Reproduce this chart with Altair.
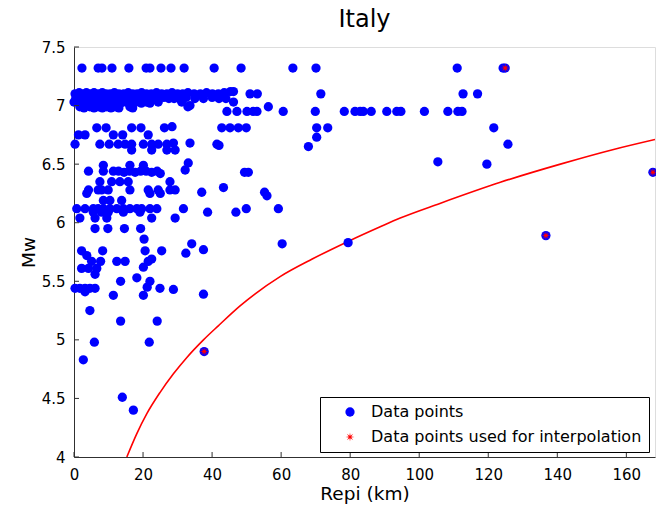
import altair as alt
import pandas as pd

title_text = "Italy"
x_title = "Repi (km)"
y_title = "Mw"
series_names = ["Data points", "Data points used for interpolation"]

x_ticks = [0, 20, 40, 60, 80, 100, 120, 140, 160]
y_ticks = [4, 4.5, 5, 5.5, 6, 6.5, 7, 7.5]

# (Repi km, Mw) pairs, grouped by magnitude band
points_top = [
    (2.3, 7.32), (7.0, 7.32), (8.1, 7.32), (11.0, 7.32), (15.9, 7.32), (20.9, 7.32), (22.0, 7.32),
    (25.2, 7.32), (28.1, 7.32), (31.9, 7.32), (40.6, 7.32), (48.4, 7.32), (63.4, 7.32), (70.1, 7.32),
    (111.0, 7.32), (124.3, 7.32), (124.9, 7.32),
]
points_710 = [
    (0.3, 7.10), (1.5, 7.11), (2.6, 7.10), (3.6, 7.11), (4.7, 7.10), (5.8, 7.11), (7.0, 7.10), (8.2, 7.11),
    (9.3, 7.10), (10.5, 7.10), (11.7, 7.11), (13.0, 7.10), (14.4, 7.10), (15.7, 7.11), (17.0, 7.10),
    (18.3, 7.10), (19.6, 7.11), (21.0, 7.10), (22.4, 7.10), (23.9, 7.11), (25.4, 7.10), (26.9, 7.10),
    (28.4, 7.11), (30.0, 7.10), (31.5, 7.10), (33.0, 7.11), (34.8, 7.10), (36.6, 7.10), (38.4, 7.11),
    (40.1, 7.10), (41.8, 7.10), (43.5, 7.11), (45.3, 7.12), (46.2, 7.12), (51.0, 7.10), (53.1, 7.10),
    (71.5, 7.10), (112.7, 7.10), (116.9, 7.10),
]
points_706 = [
    (0.5, 7.06), (2.0, 7.06), (3.5, 7.07), (5.0, 7.06), (6.5, 7.06), (8.0, 7.07), (9.5, 7.06), (11.0, 7.06),
    (12.5, 7.07), (14.0, 7.06), (15.5, 7.06), (17.0, 7.07), (18.5, 7.06), (20.0, 7.06), (21.5, 7.07),
    (23.0, 7.06), (24.5, 7.06), (26.0, 7.07), (27.5, 7.06), (29.0, 7.06), (30.5, 7.06), (32.5, 7.07),
    (35.0, 7.06), (37.5, 7.06), (40.0, 7.07), (42.0, 7.06), (44.0, 7.06),
]
points_700 = [
    (0.0, 7.03), (1.5, 7.02), (3.0, 7.03), (4.5, 7.02), (6.0, 7.03), (7.5, 7.02), (9.0, 7.03), (10.5, 7.02),
    (12.0, 7.03), (13.5, 7.02), (15.0, 7.03), (16.5, 7.02), (18.0, 7.03), (19.5, 7.02), (21.0, 7.03),
    (22.0, 7.02), (24.4, 7.03), (31.2, 7.03), (46.2, 7.03),
    (1.7, 6.99), (2.9, 6.98), (4.6, 6.99), (5.8, 6.98), (7.0, 6.99), (8.2, 6.98), (9.5, 6.99), (10.7, 6.98),
    (11.9, 6.99), (13.0, 6.98), (16.2, 6.99), (17.0, 6.98), (33.0, 6.99), (33.6, 7.00), (56.3, 6.99),
]
points_695 = [
    (44.3, 6.95), (47.2, 6.95), (50.1, 6.95), (51.9, 6.95), (53.0, 6.95), (60.6, 6.95), (69.9, 6.95),
    (78.3, 6.95), (81.4, 6.95), (82.9, 6.95), (83.8, 6.95), (86.1, 6.95), (90.6, 6.95), (93.5, 6.95),
    (94.7, 6.95), (101.5, 6.95), (108.3, 6.95), (111.2, 6.95), (112.4, 6.95),
]
points_mid = [
    (6.6, 6.81), (9.3, 6.81), (16.7, 6.81), (19.4, 6.81), (26.2, 6.81), (28.4, 6.82), (42.8, 6.81),
    (45.2, 6.81), (47.6, 6.81), (49.9, 6.81), (70.3, 6.81), (73.5, 6.81), (121.6, 6.81),
    (1.3, 6.75), (3.2, 6.75), (11.4, 6.75), (14.1, 6.75), (21.5, 6.75), (70.3, 6.73),
    (0.3, 6.67), (7.5, 6.67), (10.2, 6.67), (12.8, 6.67), (14.8, 6.67), (16.7, 6.67), (20.1, 6.67),
    (22.5, 6.67), (24.4, 6.67), (26.9, 6.67), (28.8, 6.68), (33.6, 6.68), (41.4, 6.67), (42.0, 6.66),
    (67.9, 6.65), (125.7, 6.67),
    (16.7, 6.62), (22.5, 6.62), (26.9, 6.62), (29.3, 6.62),
    (105.4, 6.52), (119.6, 6.50), (33.1, 6.51), (8.5, 6.49), (16.2, 6.49), (20.1, 6.49),
    (4.2, 6.44), (8.5, 6.44), (11.4, 6.44), (12.9, 6.44), (14.5, 6.43), (16.1, 6.44), (17.7, 6.43),
    (19.3, 6.44), (20.9, 6.44), (22.5, 6.43), (24.1, 6.44), (25.0, 6.42), (32.2, 6.45), (49.4, 6.43),
    (50.5, 6.43),
    (7.5, 6.35), (10.9, 6.35), (13.3, 6.35), (15.7, 6.35), (27.8, 6.35), (43.3, 6.30),
]
points_low = [
    (4.2, 6.28), (7.0, 6.28), (8.0, 6.28), (9.9, 6.28), (16.2, 6.28), (21.5, 6.28), (24.4, 6.28),
    (27.8, 6.28), (29.3, 6.28), (37.0, 6.26), (3.7, 6.25), (22.0, 6.25), (25.0, 6.25), (55.2, 6.26),
    (55.9, 6.23),
    (8.5, 6.19), (10.4, 6.19), (13.8, 6.19),
    (0.8, 6.12), (3.2, 6.12), (5.6, 6.12), (7.0, 6.12), (8.5, 6.12), (10.4, 6.12), (12.4, 6.12),
    (14.3, 6.12), (16.2, 6.12), (18.2, 6.12), (19.6, 6.12), (22.0, 6.12), (24.0, 6.12), (31.7, 6.12),
    (49.9, 6.12), (59.2, 6.12),
    (5.6, 6.09), (8.0, 6.09), (9.9, 6.09), (14.3, 6.09), (19.1, 6.09), (38.7, 6.09), (46.9, 6.09),
    (1.7, 6.04), (6.1, 6.04), (9.5, 6.04), (22.5, 6.04), (29.3, 6.04),
    (6.1, 5.95), (9.8, 5.95), (14.6, 5.95), (19.3, 5.95),
    (20.3, 5.86), (34.1, 5.82), (60.3, 5.82), (79.4, 5.83), (37.5, 5.77), (32.4, 5.74),
    (2.2, 5.76), (8.3, 5.76), (20.6, 5.76), (25.4, 5.76), (3.7, 5.72),
    (5.1, 5.67), (7.7, 5.67), (12.4, 5.67), (14.8, 5.67), (21.5, 5.67), (22.5, 5.69),
    (2.2, 5.61), (4.2, 5.61), (6.6, 5.61), (20.1, 5.62),
    (6.1, 5.56), (18.2, 5.53), (13.5, 5.50), (22.0, 5.50),
    (0.3, 5.44), (1.7, 5.44), (3.2, 5.44), (4.6, 5.44), (6.1, 5.44), (21.2, 5.45), (24.9, 5.44),
    (28.8, 5.43), (3.2, 5.41), (11.4, 5.38), (20.1, 5.38), (37.5, 5.39),
    (4.6, 5.25), (13.5, 5.16), (24.1, 5.16), (5.9, 4.98), (21.8, 4.98), (2.7, 4.83), (14.0, 4.51),
    (17.2, 4.40),
    (37.7, 4.90), (136.7, 5.89), (167.7, 6.43),
]

# points used for interpolation (red stars)
star_repi = [37.7, 124.9, 136.7, 167.7]
star_mw = [4.90, 7.32, 5.89, 6.43]

# red interpolation curve
curve_repi = [15.3, 18.2, 21.1, 24.9, 28.8, 32.7, 37.5, 41.8, 48.1, 59.7, 69.0, 79.4, 88.7, 94.5,
              106.0, 123.5, 140.9, 156.3, 168.3]
curve_mw = [4.00, 4.20, 4.37, 4.55, 4.71, 4.85, 5.00, 5.12, 5.29, 5.54, 5.69, 5.84, 5.965, 6.04,
            6.165, 6.345, 6.50, 6.625, 6.71]

blue = points_top + points_710 + points_706 + points_700 + points_695 + points_mid + points_low
pts_df = pd.DataFrame(blue, columns=["repi", "mw"])
pts_df["series"] = series_names[0]
star_df = pd.DataFrame({"repi": star_repi, "mw": star_mw, "series": series_names[1]})
all_df = pd.concat([pts_df, star_df], ignore_index=True)
curve_df = pd.DataFrame({"repi": curve_repi, "mw": curve_mw})
xt_df = pd.DataFrame({"repi": x_ticks})
yt_df = pd.DataFrame({"mw": y_ticks})

FONT = "DejaVu Sans"
AX = "#303030"

# asterisk-like filled star (8 spokes)
star_path = ("M1,0L0.277,0.115L0.707,0.707L0.115,0.277L0,1L-0.115,0.277L-0.707,0.707L-0.277,0.115"
             "L-1,0L-0.277,-0.115L-0.707,-0.707L-0.115,-0.277L0,-1L0.115,-0.277L0.707,-0.707"
             "L0.277,-0.115Z")

x_scale = alt.Scale(domain=[0, 168.3], nice=False, zero=False)
y_scale = alt.Scale(domain=[4, 7.5], nice=False, zero=False)
x_axis = alt.Axis(values=x_ticks, tickSize=0, labelPadding=10, grid=False, titlePadding=2,
                  labelFlush=False, domainColor=AX, labelFont=FONT, labelFontSize=15,
                  labelColor="black", titleFont=FONT, titleFontSize=18.5, titleFontWeight="normal",
                  titleColor="black")
y_axis = alt.Axis(values=y_ticks, format="~g", tickSize=0, labelPadding=9, grid=False, titlePadding=3,
                  labelFlush=False, domainColor=AX, labelFont=FONT, labelFontSize=15,
                  labelColor="black", titleFont=FONT, titleFontSize=18.5, titleFontWeight="normal",
                  titleColor="black")

X = lambda: alt.X("repi:Q", scale=x_scale, axis=x_axis, title=x_title)
Y = lambda: alt.Y("mw:Q", scale=y_scale, axis=y_axis, title=y_title)

def leg():
    return alt.Legend(title=None, orient="none", legendX=246, legendY=350, strokeColor="black",
                      fillColor="white", padding=7, symbolOffset=15, labelOffset=13, rowPadding=9,
                      labelFont=FONT, labelFontSize=16, labelColor="black", cornerRadius=0,
                      labelLimit=400)

curve = alt.Chart(curve_df).mark_line(color="#ff0000", strokeWidth=1.6, clip=True,
                                      interpolate="monotone").encode(
    x=X(), y=Y(), order=alt.Order("repi:Q"))

points = alt.Chart(all_df).mark_point(filled=True, opacity=1).encode(
    x=X(), y=Y(),
    color=alt.Color("series:N", title=None, legend=leg(),
                    scale=alt.Scale(domain=series_names, range=["#0000ff", "#ff0000"])),
    shape=alt.Shape("series:N", title=None, legend=leg(),
                    scale=alt.Scale(domain=series_names, range=["circle", star_path])),
    size=alt.Size("series:N", title=None, legend=leg(),
                  scale=alt.Scale(domain=series_names, range=[86, 80])),
)

xticks_layer = alt.Chart(xt_df).mark_rule(color=AX, strokeWidth=1).encode(
    x=X(), y=alt.value(410), y2=alt.value(405))
yticks_layer = alt.Chart(yt_df).mark_rule(color=AX, strokeWidth=1).encode(
    y=Y(), x=alt.value(0), x2=alt.value(5))

chart = alt.layer(curve, points, xticks_layer, yticks_layer).properties(
    width=581, height=410,
    title=alt.TitleParams(title_text, font=FONT, fontSize=24, fontWeight="normal", color="black",
                          anchor="middle", offset=8),
    autosize=alt.AutoSizeParams(type="none"),
    padding={"left": 74, "top": 47, "right": 1, "bottom": 54},
).configure_view(strokeWidth=0).configure(background="white")

chart.save("out.html", embed_options={"renderer": "svg", "actions": False})
